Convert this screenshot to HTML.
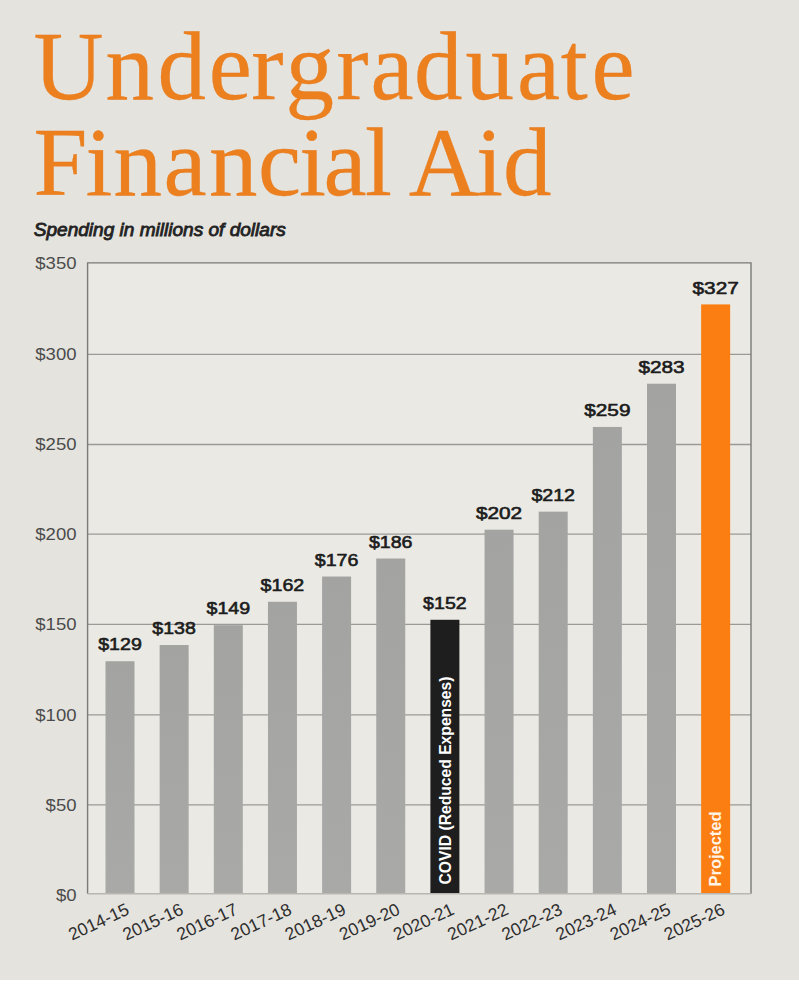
<!DOCTYPE html>
<html><head><meta charset="utf-8"><style>
html,body{margin:0;padding:0;}
body{width:799px;height:996px;background:#fff;position:relative;overflow:hidden;}
#bg{position:absolute;left:0;top:0;width:799px;height:980px;background:#e5e3de;}
svg{position:absolute;left:0;top:0;}
.t{font-family:"Liberation Serif",serif;fill:#ec7f1e;stroke:#e57c20;stroke-width:0.3px;font-size:97px;}
.sub{font-family:"Liberation Sans",sans-serif;font-style:italic;font-size:17.6px;fill:#222;stroke:#222;stroke-width:0.8px;}
.yl text{font-family:"Liberation Sans",sans-serif;font-size:16.3px;fill:#4b4b4b;text-anchor:end;}
.dl text{font-family:"Liberation Sans",sans-serif;font-size:17.1px;fill:#1c1c1c;stroke:#1c1c1c;stroke-width:0.6px;}
.xl text{font-family:"Liberation Sans",sans-serif;font-size:17.6px;fill:#2e2e2e;text-anchor:end;}
.vt2{font-family:"Liberation Sans",sans-serif;font-weight:bold;font-size:16.2px;fill:#fff4e6;}
.vt{font-family:"Liberation Sans",sans-serif;font-weight:bold;font-size:16px;fill:#fff;}
</style></head><body>
<div id="bg"></div>
<svg width="799" height="996" viewBox="0 0 799 996">
<defs><linearGradient id="gb" x1="0" y1="0" x2="0" y2="1"><stop offset="0" stop-color="#a3a3a2"/><stop offset="1" stop-color="#a9a9a8"/></linearGradient></defs>
<text class="t" x="33.5 105.4 157.6 208.8 251.3 285.6 336.3 370.4 414.1 465.4 516.9 560.8 591.5" y="98.8">Undergraduate</text>
<text class="t" x="33.4 85.4 113.4 163.4 208.9 258.1 298.9 323.4 365.0 392.0 408.8 475.9 503.1" y="195.3">Financial Aid</text>
<text class="sub" x="33.8" y="236" textLength="252" lengthAdjust="spacingAndGlyphs">Spending in millions of dollars</text>
<rect x="87.6" y="262.9" width="663.4" height="630.8" fill="#eae9e4"/>
<g stroke="#9b9a96" stroke-width="1.4"><line x1="88" x2="751" y1="354.40" y2="354.40"/><line x1="88" x2="751" y1="444.50" y2="444.50"/><line x1="88" x2="751" y1="534.10" y2="534.10"/><line x1="88" x2="751" y1="624.40" y2="624.40"/><line x1="88" x2="751" y1="714.90" y2="714.90"/><line x1="88" x2="751" y1="804.90" y2="804.90"/></g>
<g><rect x="105.50" y="661.23" width="29" height="232.47" fill="url(#gb)"/><rect x="159.65" y="645.01" width="29" height="248.69" fill="url(#gb)"/><rect x="213.80" y="625.19" width="29" height="268.51" fill="url(#gb)"/><rect x="267.95" y="601.76" width="29" height="291.94" fill="url(#gb)"/><rect x="322.10" y="576.53" width="29" height="317.17" fill="url(#gb)"/><rect x="376.25" y="558.51" width="29" height="335.19" fill="url(#gb)"/><rect x="430.40" y="619.78" width="29" height="273.92" fill="#1e1e1e"/><rect x="484.55" y="529.68" width="29" height="364.02" fill="url(#gb)"/><rect x="538.70" y="511.65" width="29" height="382.05" fill="url(#gb)"/><rect x="592.85" y="426.96" width="29" height="466.74" fill="url(#gb)"/><rect x="647.00" y="383.71" width="29" height="509.99" fill="url(#gb)"/><rect x="701.15" y="304.41" width="29" height="589.29" fill="#fb7e12"/></g>
<g fill="none" stroke-width="1.4"><path d="M87.6 893.7 V262.9 H751 V893.7" stroke="#7a7a78"/><path d="M87.6 893.7 H751" stroke="#b9b7b2"/></g>
<g class="yl"><text x="76.5" y="901.1" textLength="20.6" lengthAdjust="spacingAndGlyphs">$0</text><text x="76.5" y="810.7" textLength="30.9" lengthAdjust="spacingAndGlyphs">$50</text><text x="76.5" y="720.7" textLength="41.2" lengthAdjust="spacingAndGlyphs">$100</text><text x="76.5" y="630.2" textLength="41.2" lengthAdjust="spacingAndGlyphs">$150</text><text x="76.5" y="539.9" textLength="41.2" lengthAdjust="spacingAndGlyphs">$200</text><text x="76.5" y="450.3" textLength="41.2" lengthAdjust="spacingAndGlyphs">$250</text><text x="76.5" y="360.2" textLength="41.2" lengthAdjust="spacingAndGlyphs">$300</text><text x="76.5" y="268.9" textLength="41.2" lengthAdjust="spacingAndGlyphs">$350</text></g>
<g class="dl"><text x="98.2" y="650.4" textLength="43.6" lengthAdjust="spacingAndGlyphs">$129</text><text x="152.3" y="634.2" textLength="43.6" lengthAdjust="spacingAndGlyphs">$138</text><text x="206.5" y="614.4" textLength="43.6" lengthAdjust="spacingAndGlyphs">$149</text><text x="260.6" y="591.0" textLength="43.6" lengthAdjust="spacingAndGlyphs">$162</text><text x="314.8" y="565.7" textLength="43.6" lengthAdjust="spacingAndGlyphs">$176</text><text x="368.9" y="547.7" textLength="43.6" lengthAdjust="spacingAndGlyphs">$186</text><text x="423.1" y="609.0" textLength="43.6" lengthAdjust="spacingAndGlyphs">$152</text><text x="475.9" y="518.9" textLength="46.3" lengthAdjust="spacingAndGlyphs">$202</text><text x="531.4" y="500.9" textLength="43.6" lengthAdjust="spacingAndGlyphs">$212</text><text x="584.2" y="416.2" textLength="46.3" lengthAdjust="spacingAndGlyphs">$259</text><text x="638.4" y="372.9" textLength="46.3" lengthAdjust="spacingAndGlyphs">$283</text><text x="692.5" y="293.6" textLength="46.3" lengthAdjust="spacingAndGlyphs">$327</text></g>
<g class="xl"><text transform="translate(130.5,913.5) rotate(-25)">2014-15</text><text transform="translate(184.7,913.5) rotate(-25)">2015-16</text><text transform="translate(238.8,913.5) rotate(-25)">2016-17</text><text transform="translate(292.9,913.5) rotate(-25)">2017-18</text><text transform="translate(347.1,913.5) rotate(-25)">2018-19</text><text transform="translate(401.2,913.5) rotate(-25)">2019-20</text><text transform="translate(455.4,913.5) rotate(-25)">2020-21</text><text transform="translate(509.6,913.5) rotate(-25)">2021-22</text><text transform="translate(563.7,913.5) rotate(-25)">2022-23</text><text transform="translate(617.8,913.5) rotate(-25)">2023-24</text><text transform="translate(672.0,913.5) rotate(-25)">2024-25</text><text transform="translate(726.1,913.5) rotate(-25)">2025-26</text></g>
<text class="vt" transform="translate(451,884.5) rotate(-90)" textLength="208" lengthAdjust="spacingAndGlyphs">COVID (Reduced Expenses)</text>
<text class="vt2" transform="translate(721,886.5) rotate(-90)" textLength="75" lengthAdjust="spacingAndGlyphs">Projected</text>
</svg>
</body></html>
